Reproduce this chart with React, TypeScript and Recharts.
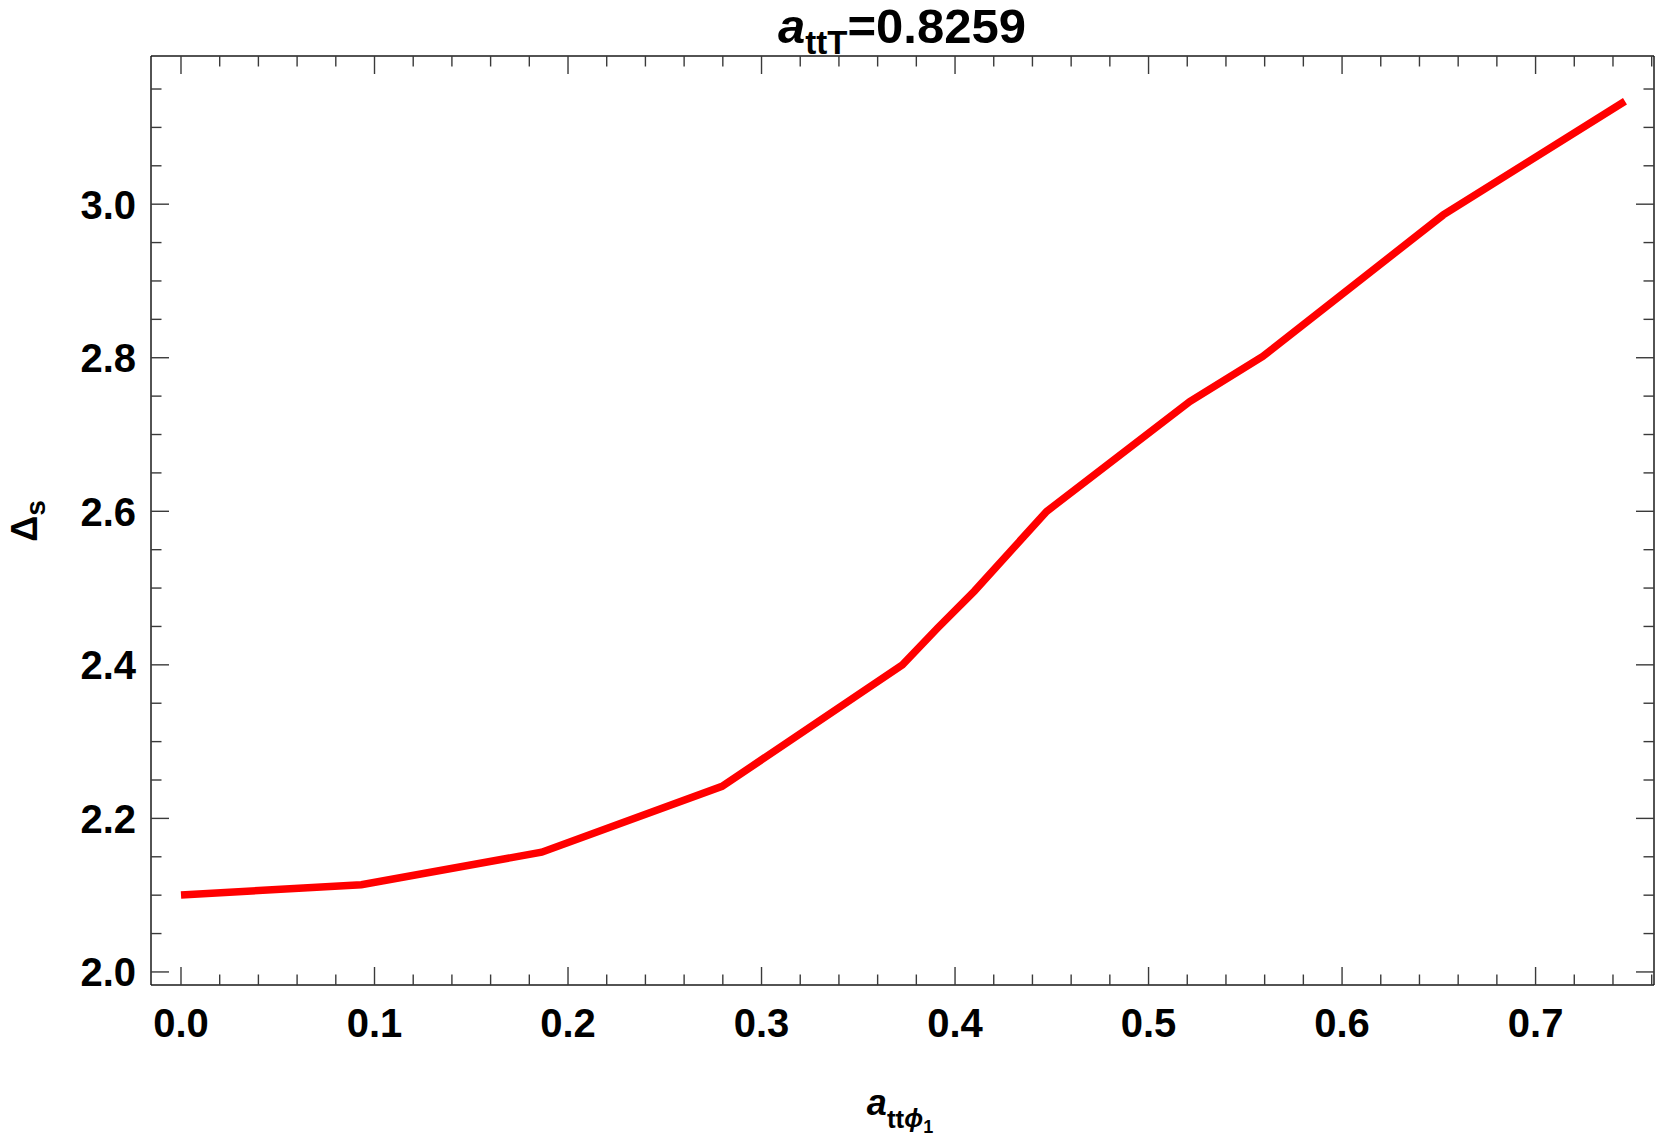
import { LineChart, Line, XAxis, YAxis } from 'recharts'

// curve samples
const xValues = [0, 0.0932, 0.1864, 0.2796, 0.3728, 0.391, 0.41, 0.4473, 0.5213, 0.559, 0.6523, 0.7462]
const yValues = [2.1003, 2.1137, 2.156, 2.2417, 2.4, 2.448, 2.496, 2.5998, 2.743, 2.8016, 2.986, 3.134]

// ticks (minor + labelled major)
const xMinorTicks = [
  0, 0.02, 0.04, 0.06, 0.08, 0.1, 0.12, 0.14, 0.16, 0.18, 0.2, 0.22, 0.24, 0.26, 0.28, 0.3, 0.32, 0.34, 0.36, 0.38,
  0.4, 0.42, 0.44, 0.46, 0.48, 0.5, 0.52, 0.54, 0.56, 0.58, 0.6, 0.62, 0.64, 0.66, 0.68, 0.7, 0.72, 0.74, 0.76
]
const xMajorTicks = [0, 0.1, 0.2, 0.3, 0.4, 0.5, 0.6, 0.7]
const yMinorTicks = [
  2.0, 2.05, 2.1, 2.15, 2.2, 2.25, 2.3, 2.35, 2.4, 2.45, 2.5, 2.55, 2.6, 2.65, 2.7, 2.75, 2.8, 2.85, 2.9, 2.95,
  3.0, 3.05, 3.1, 3.15
]
const yMajorTicks = [2.0, 2.2, 2.4, 2.6, 2.8, 3.0]
const titleValue = '0.8259'

const data = xValues.map((x, i) => ({ x, y: yValues[i] }))

const FONT = '"Liberation Sans", Arial, sans-serif'
const TICK_COLOR = '#3a3a3a'
const MAJOR = 18
const MINOR = 10.5

const isMajor = (v: number, list: number[]) => list.some(m => Math.abs(m - v) < 1e-6)

function BottomTick(props: any) {
  const { x, y, payload } = props
  const major = isMajor(payload.value, xMajorTicks)
  return (
    <g>
      <line x1={x} x2={x} y1={y} y2={y - (major ? MAJOR : MINOR)} stroke={TICK_COLOR} strokeWidth={1.4} />
      {major && (
        <text x={x} y={y + 52} textAnchor="middle" fontFamily={FONT} fontWeight="bold" fontSize={40} fill="#000">
          {payload.value.toFixed(1)}
        </text>
      )}
    </g>
  )
}

function TopTick(props: any) {
  const { x, y, payload } = props
  const major = isMajor(payload.value, xMajorTicks)
  return <line x1={x} x2={x} y1={y} y2={y + (major ? MAJOR : MINOR)} stroke={TICK_COLOR} strokeWidth={1.4} />
}

function LeftTick(props: any) {
  const { x, y, payload } = props
  const major = isMajor(payload.value, yMajorTicks)
  return (
    <g>
      <line x1={x} x2={x + (major ? MAJOR : MINOR)} y1={y} y2={y} stroke={TICK_COLOR} strokeWidth={1.4} />
      {major && (
        <text x={x - 15} y={y} dy="0.36em" textAnchor="end" fontFamily={FONT} fontWeight="bold" fontSize={40} fill="#000">
          {payload.value.toFixed(1)}
        </text>
      )}
    </g>
  )
}

function RightTick(props: any) {
  const { x, y, payload } = props
  const major = isMajor(payload.value, yMajorTicks)
  return <line x1={x} x2={x - (major ? MAJOR : MINOR)} y1={y} y2={y} stroke={TICK_COLOR} strokeWidth={1.4} />
}

export default function App() {
  const xDomain = [-0.0155, 0.7612]
  const yDomain = [1.983, 3.193]
  const frame = { stroke: '#1a1a1a', strokeWidth: 1.5 }

  return (
    <div style={{ position: 'absolute', left: 0, top: 0, width: 1661, height: 1143, background: '#fff' }}>
      <LineChart width={1661} height={1143} data={data} margin={{ top: 55, right: 6, left: 0, bottom: 0 }}>
        <XAxis
          dataKey="x"
          type="number"
          domain={xDomain}
          allowDataOverflow
          ticks={xMinorTicks}
          interval={0}
          height={158}
          tickSize={0}
          tickMargin={0}
          tickLine={false}
          axisLine={frame}
          tick={BottomTick}
        />
        <XAxis
          xAxisId="top"
          dataKey="x"
          orientation="top"
          type="number"
          domain={xDomain}
          allowDataOverflow
          ticks={xMinorTicks}
          interval={0}
          height={1}
          tickSize={0}
          tickMargin={0}
          tickLine={false}
          axisLine={frame}
          tick={TopTick}
        />
        <YAxis
          type="number"
          domain={yDomain}
          allowDataOverflow
          ticks={yMinorTicks}
          interval={0}
          width={151}
          tickSize={0}
          tickMargin={0}
          tickLine={false}
          axisLine={frame}
          tick={LeftTick}
        />
        <YAxis
          yAxisId="right"
          orientation="right"
          type="number"
          domain={yDomain}
          allowDataOverflow
          ticks={yMinorTicks}
          interval={0}
          width={1}
          tickSize={0}
          tickMargin={0}
          tickLine={false}
          axisLine={frame}
          tick={RightTick}
        />
        {/* invisible twin so the top/right frame axes have a series */}
        <Line
          xAxisId="top"
          yAxisId="right"
          type="linear"
          dataKey="y"
          stroke="none"
          strokeWidth={0}
          dot={false}
          activeDot={false}
          legendType="none"
          isAnimationActive={false}
        />
        <Line
          type="linear"
          dataKey="y"
          stroke="#ff0000"
          strokeWidth={7.5}
          dot={false}
          activeDot={false}
          isAnimationActive={false}
        />
      </LineChart>

      {/* title and axis labels */}
      <svg
        width={1661}
        height={1143}
        style={{ position: 'absolute', left: 0, top: 0, pointerEvents: 'none' }}
        fontFamily={FONT}
        fontWeight="bold"
      >
        <text x={902} y={43} textAnchor="middle" fill="#000">
          <tspan fontSize={49} fontStyle="italic">a</tspan>
          <tspan fontSize={33} dy={11}>ttT</tspan>
          <tspan fontSize={49} dy={-11}>={titleValue}</tspan>
        </text>

        <text x={37} y={521} textAnchor="middle" fill="#000" transform="rotate(-90, 37, 521)">
          <tspan fontSize={36}>Δ</tspan>
          <tspan fontSize={28} dy={8}>s</tspan>
        </text>

        <text x={900} y={1115} textAnchor="middle" fill="#000">
          <tspan fontSize={36} fontStyle="italic">a</tspan>
          <tspan fontSize={26} dy={13}>tt</tspan>
          <tspan fontSize={25} fontStyle="italic" dy={-1}>ϕ</tspan>
          <tspan fontSize={18} dy={6}>1</tspan>
        </text>
      </svg>
    </div>
  )
}
